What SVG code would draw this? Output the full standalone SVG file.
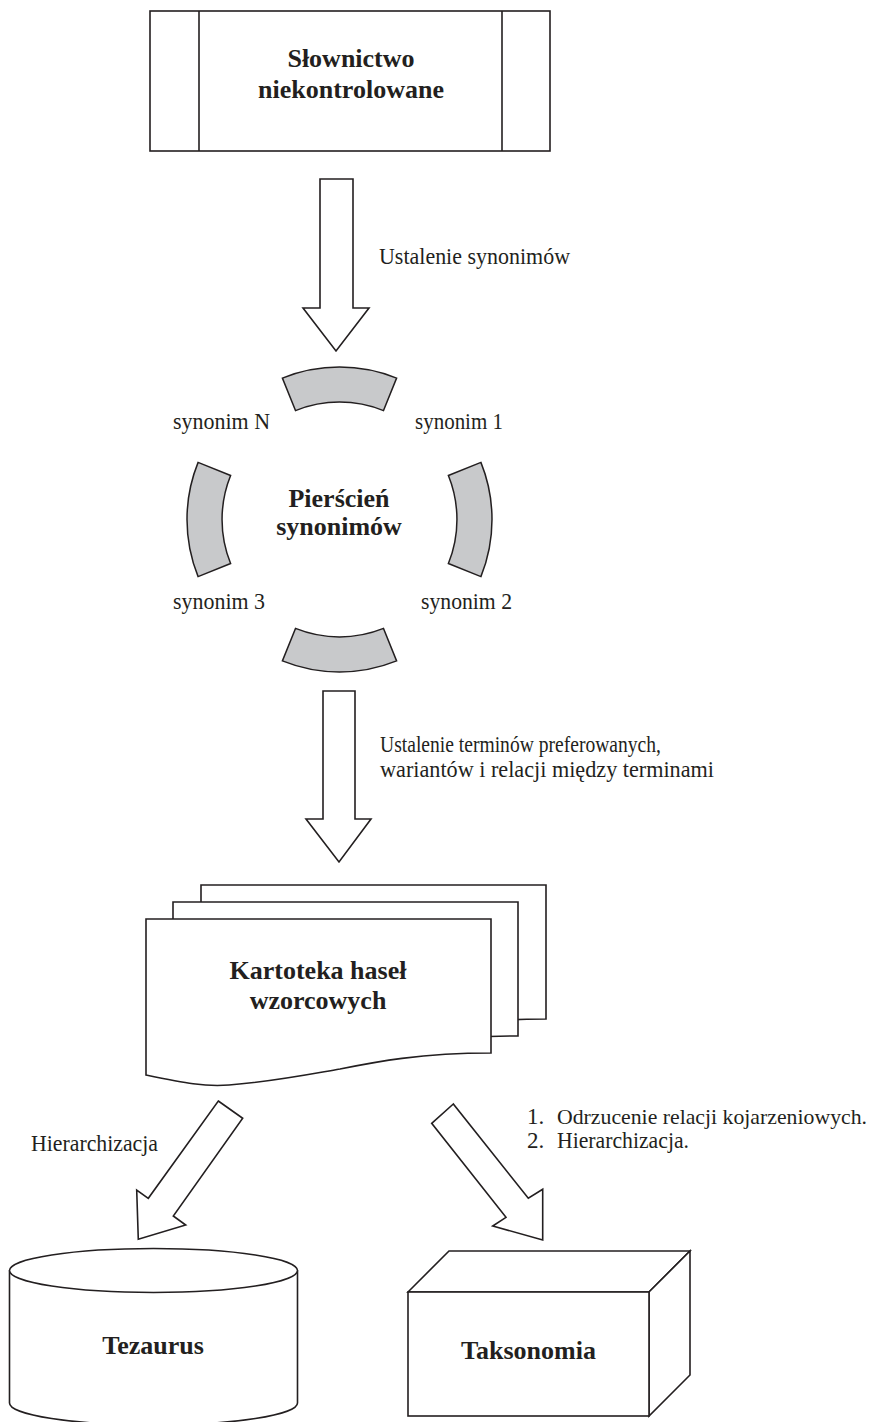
<svg xmlns="http://www.w3.org/2000/svg" xmlns:xlink="http://www.w3.org/1999/xlink" width="881" height="1422" viewBox="0 0 881 1422">
<style>
.sh{fill:#fff;stroke:#231f20;stroke-width:1.6;stroke-linejoin:miter}
.seg{fill:#c8c9cb;stroke:#231f20;stroke-width:1.5}
.t{font-family:"Liberation Serif","Times New Roman",serif;font-size:26px;font-weight:bold;fill:#231f20;text-anchor:middle}
.l{font-family:"Liberation Serif","Times New Roman",serif;font-size:23px;fill:#231f20}
.s{font-size:22px}
</style>
<defs>
<path id="page" d="M146,919 L491,919 L491,1053 C420,1053 375,1062 340,1069 C300,1076 270,1082 229,1085 C205,1087 185,1083 146,1075 Z"/>
<path id="seg" d="M282.4,378.1 A152.5,152.5 0 0 1 396.6,378.1 L383.5,410.6 A117.5,117.5 0 0 0 295.5,410.6 Z"/>
</defs>
<rect width="881" height="1422" fill="#fff"/>

<g id="connectors">
<polygon class="sh" points="320,179 353,179 353,308 369,308 336,351 303,308 320,308"/>
<polygon class="sh" points="323,691 355,691 355,819 371,819 339,862 306,819 323,819"/>
<polygon class="sh" points="218.3,1101 242.7,1118.3 173.3,1216 185.7,1225 138.3,1239.3 136.7,1190 148.3,1198.3"/>
<polygon class="sh" points="453.3,1104 431.7,1123.3 506,1217.3 492.7,1226 542.7,1240 542.7,1189.3 528.3,1198.3"/>
<text class="l" x="379" y="264" textLength="191" lengthAdjust="spacingAndGlyphs">Ustalenie synonimów</text>
<text class="l" x="380" y="752" textLength="281" lengthAdjust="spacingAndGlyphs">Ustalenie terminów preferowanych,</text>
<text class="l" x="380" y="777" textLength="334" lengthAdjust="spacingAndGlyphs">wariantów i relacji między terminami</text>
<text class="l" x="31" y="1151" textLength="127" lengthAdjust="spacingAndGlyphs">Hierarchizacja</text>
<text class="l" x="527" y="1124">1.</text>
<text class="l s" x="557" y="1124" textLength="310" lengthAdjust="spacingAndGlyphs">Odrzucenie relacji kojarzeniowych.</text>
<text class="l" x="527" y="1148">2.</text>
<text class="l" x="557" y="1148" textLength="132" lengthAdjust="spacingAndGlyphs">Hierarchizacja.</text>
</g>

<g id="slownictwo">
<rect class="sh" x="150" y="11" width="400" height="140"/>
<line class="sh" x1="199" y1="11" x2="199" y2="151"/>
<line class="sh" x1="502" y1="11" x2="502" y2="151"/>
<text class="t" x="351" y="67">Słownictwo</text>
<text class="t" x="351" y="98">niekontrolowane</text>
</g>

<g id="pierscien">
<use xlink:href="#seg" class="seg"/>
<use xlink:href="#seg" class="seg" transform="rotate(90 339.5 519.5)"/>
<use xlink:href="#seg" class="seg" transform="rotate(180 339.5 519.5)"/>
<use xlink:href="#seg" class="seg" transform="rotate(270 339.5 519.5)"/>
<text class="t" x="339" y="507">Pierścień</text>
<text class="t" x="339" y="535">synonimów</text>
<text class="l" x="173" y="429" textLength="97" lengthAdjust="spacingAndGlyphs">synonim N</text>
<text class="l" x="415" y="429" textLength="88" lengthAdjust="spacingAndGlyphs">synonim 1</text>
<text class="l" x="173" y="609" textLength="92" lengthAdjust="spacingAndGlyphs">synonim 3</text>
<text class="l" x="421" y="609" textLength="91" lengthAdjust="spacingAndGlyphs">synonim 2</text>
</g>

<g id="kartoteka">
<use xlink:href="#page" class="sh" transform="translate(55,-34)"/>
<use xlink:href="#page" class="sh" transform="translate(27,-17)"/>
<use xlink:href="#page" class="sh"/>
<text class="t" x="318" y="979">Kartoteka haseł</text>
<text class="t" x="318" y="1009">wzorcowych</text>
</g>

<g id="tezaurus">
<path class="sh" d="M9.5,1270.5 L9.5,1403 A144,22 0 0 0 297.5,1403 L297.5,1270.5"/>
<ellipse class="sh" cx="153.5" cy="1270.5" rx="144" ry="22"/>
<text class="t" x="153" y="1354">Tezaurus</text>
</g>

<g id="taksonomia">
<polygon class="sh" points="408,1292 449,1251 690,1251 649,1292"/>
<polygon class="sh" points="649,1292 690,1251 690,1375 649,1416"/>
<rect class="sh" x="408" y="1292" width="241" height="124"/>
<text class="t" x="528.5" y="1359">Taksonomia</text>
</g>
</svg>
